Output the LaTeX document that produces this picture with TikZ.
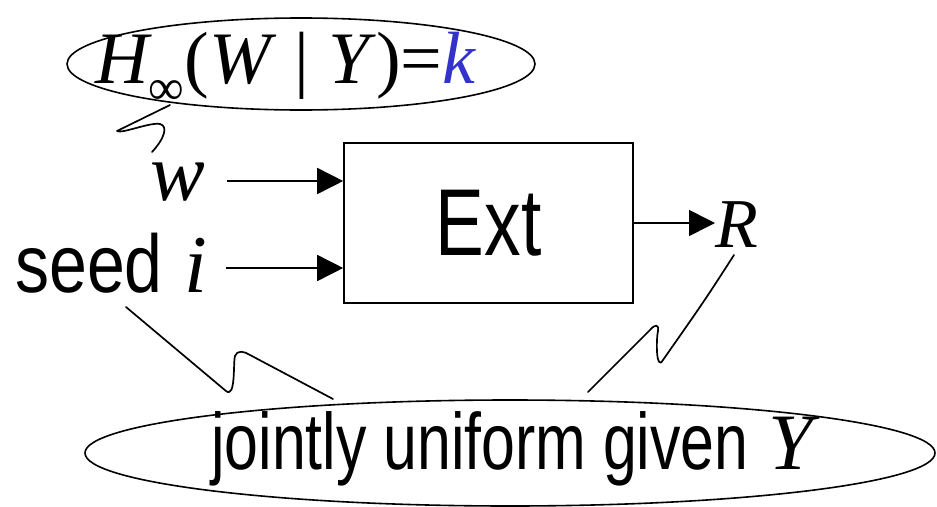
\documentclass[tikz,border=0pt]{standalone}
\usepackage{fontspec}
\setmainfont{Liberation Serif}
\newfontfamily\sansf{Liberation Sans}
\usetikzlibrary{shapes.geometric,arrows.meta}
\definecolor{kblue}{RGB}{51,51,204}
\tikzset{
  lw/.style={line width=1.6pt},
  arr/.style={line width=1.6pt,-{Triangle[length=26pt,width=26pt]}},
  callout/.style={line width=1.7pt,line join=round,line cap=round},
  lbl/.style={inner sep=0pt,anchor=base west},
  bubble/.style={draw,line width=1.6pt,ellipse,inner sep=0pt},
}
\begin{document}
\begin{tikzpicture}[x=1pt,y=-1pt]
\useasboundingbox (0,0) rectangle (937,506);
% top bubble
\node[bubble,minimum width=468pt,minimum height=92pt] (topell) at (301,64) {};
\node[lbl] (htext) at (95,83) {\fontsize{74}{74}\selectfont\textit{H}\hspace{-3pt}\raisebox{-21pt}{\fontsize{50}{50}\selectfont ∞}(\textit{W} | \textit{Y})=\textcolor{kblue}{\textit{k}}};
% inputs
\node[lbl] (w) at (150,200) {\fontsize{82}{82}\selectfont\textit{w}};
\node[lbl] (seed) at (15,292) {\fontsize{82}{82}\selectfont\scalebox{0.83}[1]{\sansf seed}\hspace{22pt}\textit{i}};
% extractor
\node[draw,lw,minimum width=289pt,minimum height=160pt,inner sep=0pt] (ext) at (488.5,223) {\raisebox{-3pt}{\fontsize{95}{95}\selectfont\scalebox{0.77}[1]{\sansf Ext}}};
\node[lbl] (R) at (715,247) {\fontsize{70}{70}\selectfont\textit{R}};
% arrows
\coordinate (wa) at (227,181);
\draw[arr] (wa) -- (wa -| ext.west);
\coordinate (sa) at (226,268);
\draw[arr] (sa) -- (sa -| ext.west);
\draw[arr] (ext.east) -- (ext.east -| R.west);
% bottom bubble
\node[bubble,minimum width=850pt,minimum height=106pt] (botell) at (510,453) {};
\node[lbl] (jtext) at (211,469) {\fontsize{80}{80}\selectfont\scalebox{0.76}[1]{\sansf jointly uniform given}\hspace{20pt}\textit{Y}};
% callouts
\coordinate (t1) at (170,105);
\coordinate (t2) at (152,152);
\draw[callout] (t1) -- (117,131) .. controls (122,134) and (150,122) .. (160,124)
  .. controls (168,126) and (165,138) .. (t2);
\coordinate (l1) at (126,307);
\coordinate (l2) at (333,399);
\draw[callout] (l1) -- (226,391) .. controls (236,399) and (233,362) .. (235,356)
  .. controls (237,350) and (244,351) .. (250,355) -- (l2);
\coordinate (r1) at (734,255);
\coordinate (r2) at (588,392);
\draw[callout] (r1) .. controls (705,300) .. (663,360) .. controls (656,372) and (656,340) .. (658,331)
  .. controls (659,324) and (655,324) .. (650,330) -- (r2);
\end{tikzpicture}
\end{document}
